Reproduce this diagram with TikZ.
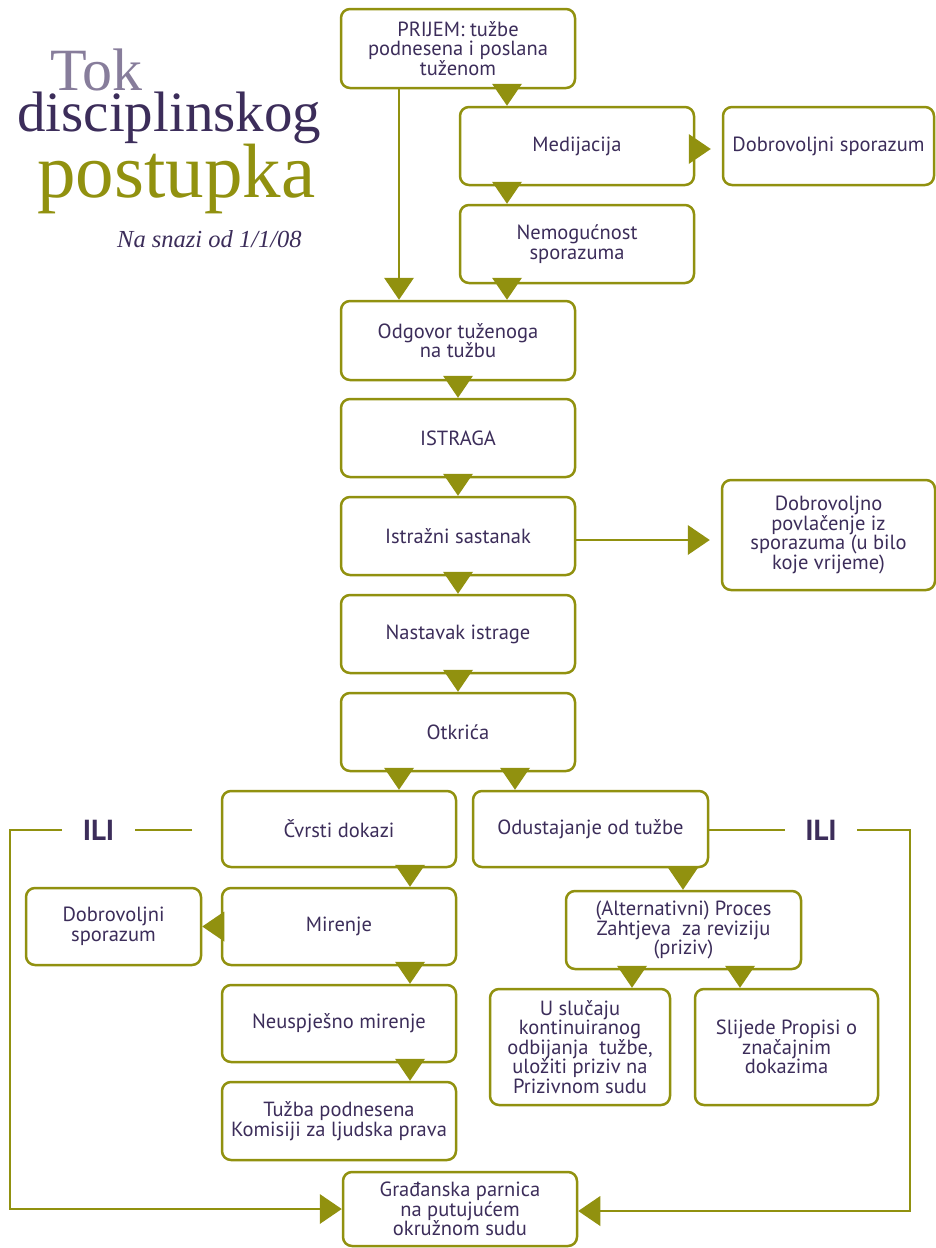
\documentclass[tikz,border=0pt]{standalone}
\usepackage{fontspec}
\setmainfont{Liberation Serif}
\newfontfamily\boxfamily{PT Sans}
\usetikzlibrary{arrows.meta}
\definecolor{olv}{RGB}{145,145,15}
\definecolor{txt}{RGB}{60,45,90}
\definecolor{tokc}{RGB}{135,125,155}
\tikzset{
  box/.style={draw=olv, line width=2.5pt, rounded corners=9pt, fill=white,
    align=center, text=txt, inner sep=1pt,
    font=\boxfamily\fontsize{20.5}{19.5}\selectfont},
  tri/.style={draw=olv, line width=2.5pt,
    -{Triangle[width=30pt,length=22pt,line width=0pt]}},
  conn/.style={draw=olv, line width=2.5pt},
  ili/.style={text=txt, inner sep=0pt, font=\boxfamily\bfseries\fontsize{29}{30}\selectfont},
  ttl/.style={anchor=base west, inner sep=0pt}
}
\begin{document}
\begin{tikzpicture}[x=1pt,y=-1pt]
\useasboundingbox (0,0) rectangle (936,1248);
% title
\node[ttl, text=tokc, font=\fontsize{60}{60}\selectfont] (t1) at (50,90) {Tok};
\node[ttl, text=txt, font=\fontsize{57}{57}\selectfont] (t2) at (17,131) {disciplinskog};
\node[ttl, text=olv, font=\fontsize{77}{77}\selectfont] (t3) at (37,197) {postupka};
\node[ttl, text=txt, font=\itshape\fontsize{24.5}{24.5}\selectfont] (t4) at (117,247) {Na snazi od 1/1/08};

% boxes
\node[box, minimum width=234pt, minimum height=79pt] (prijem) at (458,48.5) {PRIJEM: tužbe\\podnesena i poslana\\tuženom};
\node[box, minimum width=234pt, minimum height=78pt] (med) at (577,146) {Medijacija};
\node[box, minimum width=211pt, minimum height=78pt] (dob1) at (828.5,146) {Dobrovoljni sporazum};
\node[box, minimum width=234pt, minimum height=78pt] (nemo) at (577,244) {Nemogućnost\\sporazuma};
\node[box, minimum width=234pt, minimum height=79pt] (odg) at (458,340.5) {Odgovor tuženoga\\na tužbu};
\node[box, minimum width=234pt, minimum height=78pt] (istraga) at (458,438) {ISTRAGA};
\node[box, minimum width=234pt, minimum height=78pt] (istr) at (458,536) {Istražni sastanak};
\node[box, minimum width=213pt, minimum height=110pt] (dobpov) at (828.5,535) {Dobrovoljno\\povlačenje iz\\sporazuma (u bilo\\koje vrijeme)};
\node[box, minimum width=234pt, minimum height=78pt] (nast) at (458,634) {Nastavak istrage};
\node[box, minimum width=234pt, minimum height=78pt] (otk) at (458,732) {Otkrića};
\node[box, minimum width=234pt, minimum height=76pt] (cvrsti) at (339,829) {Čvrsti dokazi};
\node[box, minimum width=235pt, minimum height=76pt] (odust) at (590.5,829) {Odustajanje od tužbe};
\node[box, minimum width=175pt, minimum height=77pt] (dob2) at (113.5,926.5) {Dobrovoljni\\sporazum};
\node[box, minimum width=234pt, minimum height=77pt] (mir) at (339,926.5) {Mirenje};
\node[box, minimum width=235pt, minimum height=78pt] (alt) at (683.5,930) {(Alternativni) Proces\\Zahtjeva\ \ za reviziju\\(priziv)};
\node[box, minimum width=234pt, minimum height=77pt] (neusp) at (339,1023.5) {Neuspješno mirenje};
\node[box, minimum width=180pt, minimum height=116pt] (uslu) at (580,1047) {U slučaju\\kontinuiranog\\odbijanja\ \ tužbe,\\uložiti priziv na\\Prizivnom sudu};
\node[box, minimum width=183pt, minimum height=116pt] (slij) at (786.5,1047) {Slijede Propisi o\\značajnim\\dokazima};
\node[box, minimum width=234pt, minimum height=78pt] (tuzba) at (339,1121) {Tužba podnesena\\Komisiji za ljudska prava};
\node[box, minimum width=234pt, minimum height=74pt] (grad) at (460,1209) {Građanska parnica\\na putujućem\\okružnom sudu};

% ILI labels
\node[ili, minimum width=73pt] (iliL) at (98.5,830) {ILI};
\node[ili, minimum width=72pt] (iliR) at (821,830) {ILI};
\coordinate (lstart) at (192,830);
\coordinate (lcorner) at (10,830);
\coordinate (rcorner) at (910,830);

% connectors
\draw[tri] (507,0 |- prijem.south) -- (507,0 |- med.north);
\draw[tri] (507,0 |- med.south) -- (507,0 |- nemo.north);
\draw[tri] (507,0 |- nemo.south) -- (507,0 |- odg.north);
\draw[tri] (399,0 |- prijem.south) -- (399,0 |- odg.north);
\draw[tri] (med.east |- 0,149) -- ([xshift=-11pt]dob1.west |- 0,149);
\draw[tri] (458,0 |- odg.south) -- (458,0 |- istraga.north);
\draw[tri] (458,0 |- istraga.south) -- (458,0 |- istr.north);
\draw[tri] (458,0 |- istr.south) -- (458,0 |- nast.north);
\draw[tri] (458,0 |- nast.south) -- (458,0 |- otk.north);
\draw[tri] (istr.east |- 0,540) -- ([xshift=-11pt]dobpov.west |- 0,540);
\draw[tri] (399,0 |- otk.south) -- (399,0 |- cvrsti.north);
\draw[tri] (515,0 |- otk.south) -- (515,0 |- odust.north);
\draw[tri] (410,0 |- cvrsti.south) -- (410,0 |- mir.north);
\draw[tri] (410,0 |- mir.south) -- (410,0 |- neusp.north);
\draw[tri] (410,0 |- neusp.south) -- (410,0 |- tuzba.north);
\draw[tri] (mir.west) -- (dob2.east);
\draw[tri] (683,0 |- odust.south) -- (683,0 |- alt.north);
\draw[tri] (632,0 |- alt.south) -- (632,0 |- uslu.north);
\draw[tri] (740,0 |- alt.south) -- (740,0 |- slij.north);
% ILI paths
\draw[conn] (lstart) -- (iliL.east);
\draw[tri] (iliL.west) -- (lcorner) -- (lcorner |- grad.west) -- (grad.west);
\draw[conn] (odust.east |- 0,830) -- (iliR.west);
\draw[tri] (iliR.east) -- (rcorner) -- (rcorner |- 0,1211) -- (grad.east |- 0,1211);
\end{tikzpicture}
\end{document}
